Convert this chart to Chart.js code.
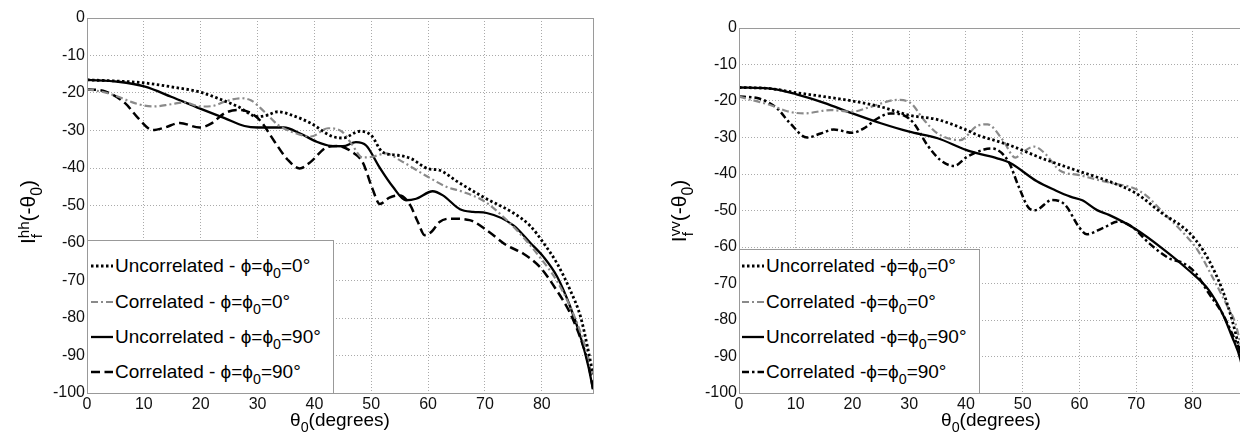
<!DOCTYPE html>
<html>
<head>
<meta charset="utf-8">
<script src="https://cdn.jsdelivr.net/npm/chart.js@4.4.0/dist/chart.umd.min.js"></script>
<style>
html, body { margin:0; padding:0; background:#fff; overflow:hidden; width:1240px; height:438px; }
body { position:relative; font-family:"Liberation Sans", Arial, sans-serif; color:#000; }
.panel { position:absolute; top:0; height:438px; }
.legend { position:absolute; background:#fff; border:1px solid #999; box-sizing:border-box; }
.row { position:absolute; left:0; right:0; height:20px; line-height:20px; font-size:19px; white-space:nowrap; }
.row svg { position:absolute; top:0; }
.row .t { position:absolute; top:0; }
sub { font-size:0.75em; vertical-align:-0.45em; line-height:0; }
.xt { position:absolute; width:300px; text-align:center; font-size:19px; line-height:20px; white-space:nowrap; }
.yt { position:absolute; width:140px; height:24px; line-height:24px; text-align:center; font-size:21px; transform:rotate(-90deg); white-space:nowrap; }
.ss { display:inline-block; vertical-align:-0.45em; font-size:0.72em; line-height:0.85em; text-align:left; }
.ss span { display:block; }
</style>
</head>
<body>
<div class="panel" style="left:0;width:620px"><canvas id="hh" width="620" height="438"></canvas></div>
<div class="panel" style="left:620px;width:640px"><canvas id="vv" width="640" height="438"></canvas></div>

<div class="yt" style="left:-42px;top:200px">I<span class="ss"><span>hh</span><span>f</span></span>(-θ<sub>0</sub>)</div>
<div class="yt" style="left:609px;top:199px">I<span class="ss"><span>vv</span><span>f</span></span>(-θ<sub>0</sub>)</div>
<div class="xt" style="left:190px;top:410px">θ<sub>0</sub>(degrees)</div>
<div class="xt" style="left:841px;top:410px">θ<sub>0</sub>(degrees)</div>

<div class="legend" id="legHH" style="left:87px;top:240px;width:247px;height:154px"></div>
<div class="legend" id="legVV" style="left:739px;top:249px;width:241px;height:145px"></div>

<script>
// ---- hh panel (left) ----
const hhUncorr0Theta = [0, 5, 10, 15, 20, 23, 26.5, 30, 31.5, 33.6, 36, 39.4, 43, 45, 48, 50, 52, 54.7, 57, 60, 62, 65, 70, 75, 78, 80.3, 82.7, 85, 86.8, 88, 89];
const hhUncorr0 = [-16.5, -16.8, -17.3, -18.4, -19.8, -21.4, -23.6, -26.3, -26.0, -25.0, -25.9, -28.1, -31.5, -32, -30.2, -31.3, -35.8, -36.6, -37.5, -40.2, -40.6, -43.5, -48, -52, -55.5, -60, -65.5, -72.6, -79.6, -87.5, -95];

const hhCorr0Theta = [0, 3, 5.5, 8.4, 11.6, 14.8, 17.1, 20, 22, 24.2, 27.1, 28.9, 31.2, 33.6, 35.9, 39.4, 42.4, 45, 46.5, 48.5, 50.2, 52.6, 55, 60, 63.2, 66.2, 70, 73.2, 76.7, 79.6, 82.6, 85, 87.3, 89];
const hhCorr0 = [-19, -19.8, -21, -22.7, -23.6, -23, -22.5, -23.6, -23.5, -22.3, -21.4, -22, -25, -28.5, -30.3, -31.6, -29.4, -30.5, -33.5, -37.2, -37, -36.1, -37.9, -42.4, -45, -46.4, -49, -53, -58.4, -63.7, -70, -77, -86, -95];

const hhUncorr90Theta = [0, 5.5, 10.2, 14.8, 19.8, 24.2, 27.7, 30, 34.6, 37.5, 40.4, 42.9, 45, 47.3, 49.1, 51.4, 53.8, 56.1, 57.9, 60.8, 62.6, 65.6, 67.9, 70.3, 75, 78, 80.3, 82.7, 85, 87, 88.2, 89];
const hhUncorr90 = [-16.5, -17, -18.3, -21, -24.1, -26.7, -28.8, -29.2, -29.2, -30.8, -33, -34.1, -34.2, -33.1, -34, -39.7, -45, -48.6, -48.2, -46.2, -47.3, -51, -51.7, -52, -55.3, -60, -63.7, -69, -77, -86, -93, -99];

const hhCorr90Theta = [0, 3.2, 6.7, 9, 11.6, 13.7, 16.3, 19.8, 21.9, 24.2, 26.5, 28.9, 30.6, 33, 35.3, 37.4, 39.4, 41.8, 44.1, 46.7, 48.5, 50.2, 51.5, 53.2, 55, 56.7, 58.2, 59.4, 60.6, 62, 63.8, 67.3, 70.3, 73.8, 76.7, 79.6, 82.6, 85, 87.3, 88.3, 89];
const hhCorr90 = [-19, -19.6, -22.7, -26.7, -29.9, -29.2, -28, -29.2, -28.1, -25.4, -24.5, -25.4, -27.6, -33, -37.8, -40.1, -38.3, -34.8, -34.1, -35.8, -38.5, -45.5, -49.6, -47.9, -47.3, -49.5, -54.4, -57.9, -57, -54.4, -53.5, -53.9, -56.6, -60.6, -62.8, -66.3, -72.6, -78.8, -87.6, -93, -99];

// ---- vv panel (right) ----
const vvUncorr0Theta = [0, 5.5, 10, 15, 20, 25, 30, 35, 40, 42, 45.5, 47.5, 53.4, 60, 65.2, 70, 74.6, 78.1, 80.5, 82.8, 85.2, 86.9, 88.1, 89];
const vvUncorr0 = [-16.3, -16.6, -17.7, -18.8, -20, -21.6, -23.9, -25.1, -27.9, -29.3, -31, -32, -35.7, -39.3, -42, -45.3, -50.8, -54.4, -58.1, -63.6, -71.8, -80, -87.3, -93];

const vvCorr0Theta = [0, 5.5, 8.5, 11.4, 16.1, 20, 23.2, 27.9, 30.2, 32.6, 35, 39, 42, 43.8, 46.5, 48.7, 50, 52, 54, 56.5, 60, 63, 66, 69.6, 72, 74.9, 78.4, 80.8, 83.7, 86, 87.5, 89];
const vvCorr0 = [-18.8, -21.1, -22.8, -23.4, -22.5, -22.9, -21.6, -19.7, -20.5, -25.2, -28.9, -30.7, -26.8, -26.4, -30.7, -35.5, -34, -32.5, -34.5, -39, -40.3, -41.5, -42.6, -43.9, -46.2, -50.8, -56.3, -60.8, -69, -76, -81, -91];

const vvUncorr90Theta = [0, 5.5, 10, 15, 20, 25, 30, 35, 40, 41.9, 45.5, 47.8, 52.5, 55.8, 58.4, 60.5, 63.1, 65.2, 69.8, 74.7, 79.2, 82.8, 85.2, 86.9, 88.4, 89];
const vvUncorr90 = [-16.3, -16.6, -18.1, -20.5, -23.4, -26.1, -28.4, -30.2, -33.4, -34.3, -35.7, -37, -42, -44.5, -46.2, -47.2, -49.9, -51.2, -55, -60.5, -66.3, -71.8, -78.2, -84.6, -91, -96];

const vvCorr90Theta = [0, 3.2, 6.7, 9, 12, 14.4, 16.7, 20, 22, 24.4, 26.7, 29, 30.8, 33.2, 35.5, 37.9, 40.2, 43.2, 44.5, 47.5, 49.3, 51.2, 52.2, 55.2, 57.5, 59.9, 61.3, 64, 67, 69.3, 72.3, 75.8, 78.4, 80.5, 82.8, 85.2, 86.9, 88.4, 89];
const vvCorr90 = [-18.8, -19.2, -22, -26.1, -30, -28.9, -27.8, -28.7, -27.5, -24.8, -23.4, -23.9, -26.1, -32.1, -36.2, -37.8, -35.3, -33.3, -33, -36.6, -43.5, -49.5, -49.9, -47.1, -48.5, -54.5, -56.5, -54.9, -53, -54.5, -59, -63.1, -64.5, -67.2, -72.7, -78.2, -83.7, -89.1, -93];

const fontFamily = '"Liberation Sans", Arial, sans-serif';

// line styles
const dotted = { color: '#000', width: 2.8, dash: [2.5, 2.5] };
const greyDashDot = { color: '#8a8a8a', width: 2.2, dash: [7, 3, 2, 3] };
const solid = { color: '#000', width: 2.3, dash: [] };
const dashed = { color: '#000', width: 2.5, dash: [9, 4.5] };
const blackDashDot = { color: '#000', width: 2.5, dash: [7, 3, 2.5, 3] };

const hhSeries = [
  { label: 'Uncorrelated - ϕ=ϕ<sub>0</sub>=0°', theta: hhUncorr0Theta, values: hhUncorr0, style: dotted },
  { label: 'Correlated - ϕ=ϕ<sub>0</sub>=0°', theta: hhCorr0Theta, values: hhCorr0, style: greyDashDot },
  { label: 'Uncorrelated - ϕ=ϕ<sub>0</sub>=90°', theta: hhUncorr90Theta, values: hhUncorr90, style: solid },
  { label: 'Correlated - ϕ=ϕ<sub>0</sub>=90°', theta: hhCorr90Theta, values: hhCorr90, style: dashed }
];
const vvSeries = [
  { label: 'Uncorrelated -ϕ=ϕ<sub>0</sub>=0°', theta: vvUncorr0Theta, values: vvUncorr0, style: dotted },
  { label: 'Correlated -ϕ=ϕ<sub>0</sub>=0°', theta: vvCorr0Theta, values: vvCorr0, style: greyDashDot },
  { label: 'Uncorrelated -ϕ=ϕ<sub>0</sub>=90°', theta: vvUncorr90Theta, values: vvUncorr90, style: solid },
  { label: 'Correlated -ϕ=ϕ<sub>0</sub>=90°', theta: vvCorr90Theta, values: vvCorr90, style: blackDashDot }
];

// grey frame round the plot area, like matlab's box on
const boxPlugin = {
  id: 'box',
  afterDraw(chart) {
    const { ctx, chartArea: a } = chart;
    ctx.save();
    ctx.setLineDash([]);
    ctx.strokeStyle = '#9a9a9a';
    ctx.lineWidth = 1;
    ctx.strokeRect(Math.round(a.left) + 0.5, Math.round(a.top) + 0.5, Math.round(a.right - a.left), Math.round(a.bottom - a.top));
    ctx.restore();
  }
};

function makeChart(id, series, padTop, padRight, yWidth) {
  const tickFont = { family: fontFamily, size: 16 };
  const grid = { color: '#aaa', lineWidth: 1, drawTicks: false };
  const border = { display: false, dash: [1, 2] };
  return new Chart(document.getElementById(id), {
    type: 'scatter',
    data: {
      datasets: series.map((s) => ({
        label: s.label,
        data: s.theta.map((t, i) => ({ x: t, y: s.values[i] })),
        showLine: true,
        borderColor: s.style.color,
        borderWidth: s.style.width,
        borderDash: s.style.dash,
        pointRadius: 0,
        cubicInterpolationMode: 'monotone',
        fill: false
      }))
    },
    options: {
      responsive: false,
      animation: false,
      layout: { padding: { top: padTop, right: padRight, left: 0, bottom: 0 } },
      plugins: { legend: { display: false }, tooltip: { enabled: false } },
      scales: {
        x: {
          type: 'linear', min: 0, max: 89,
          afterFit: (s) => { s.height = 45; },
          ticks: { stepSize: 10, includeBounds: false, padding: 2, color: '#111', font: tickFont, maxRotation: 0 },
          grid: grid, border: border
        },
        y: {
          type: 'linear', min: -100, max: 0,
          afterFit: (s) => { s.width = yWidth; },
          ticks: { stepSize: 10, padding: 2, color: '#111', font: tickFont },
          grid: grid, border: border
        }
      }
    },
    plugins: [boxPlugin]
  });
}

function makeLegend(id, series, sampleLeft, textLeft, rowTops) {
  const box = document.getElementById(id);
  series.forEach((s, i) => {
    const row = document.createElement('div');
    row.className = 'row';
    row.style.top = rowTops[i] + 'px';
    const dash = s.style.dash.length ? s.style.dash.join(' ') : 'none';
    row.innerHTML =
      '<svg width="24" height="20" style="left:' + sampleLeft + 'px">' +
      '<line x1="0" y1="10" x2="22" y2="10" stroke="' + s.style.color + '" stroke-width="' + s.style.width +
      '" stroke-dasharray="' + dash + '"/></svg>' +
      '<span class="t" style="left:' + textLeft + 'px">' + s.label + '</span>';
    box.appendChild(row);
  });
}

makeChart('hh', hhSeries, 18, 27, 87);
makeChart('vv', vvSeries, 28, 16, 119);
makeLegend('legHH', hhSeries, 3, 27, [15, 51, 86, 121]);
makeLegend('legVV', vvSeries, 2, 26, [6, 42, 77, 112]);
</script>
</body>
</html>
